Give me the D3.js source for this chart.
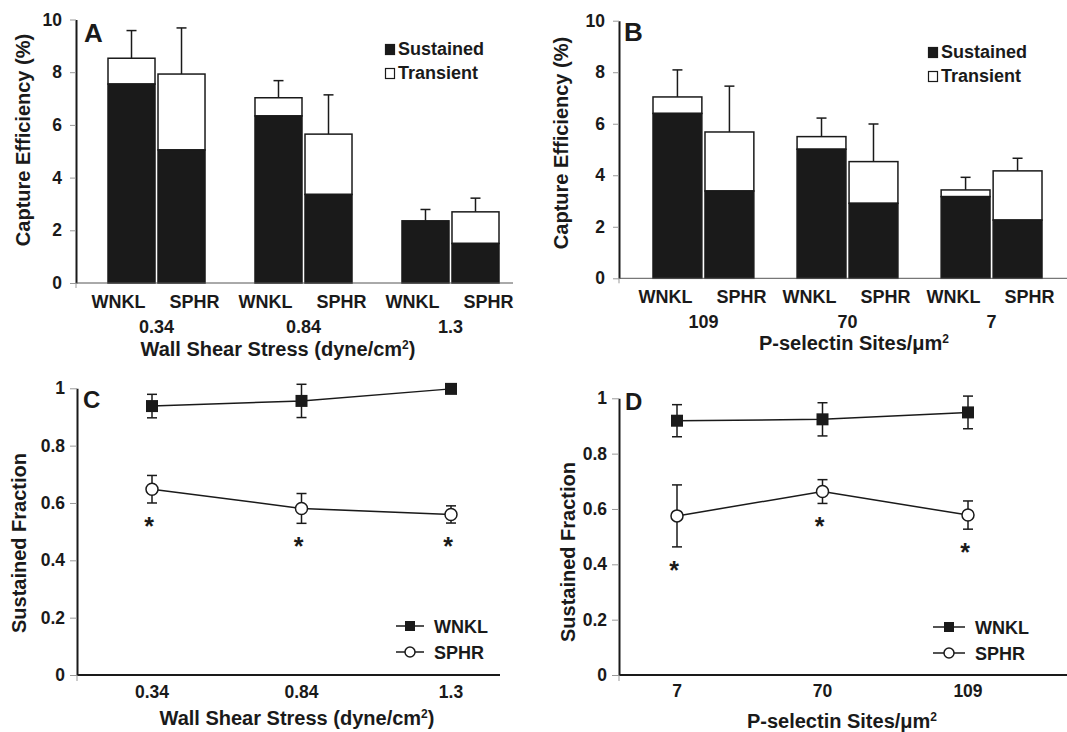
<!DOCTYPE html>
<html>
<head>
<meta charset="utf-8">
<script src="https://cdn.jsdelivr.net/npm/d3@7"></script>
<style>
  body { margin: 0; background: #fff; }
  text { font-family: "Liberation Sans", Arial, sans-serif; font-weight: bold; fill: #1a1a1a; }
</style>
</head>
<body>
<div id="chart"></div>
<script>
const shearGroups = ["0.34", "0.84", "1.3"];
const siteGroupsB = ["109", "70", "7"];
const siteGroupsD = ["7", "70", "109"];
const cellTypes = ["WNKL", "SPHR"];
const barTicks = [0, 2, 4, 6, 8, 10];
const fracTicks = [0, 0.2, 0.4, 0.6, 0.8, 1];

// panel A - capture efficiency vs shear stress
const aWnklSustained = [7.55, 6.34, 2.36];
const aWnklTransient = [0.98, 0.69, 0.0];
const aWnklSD = [1.05, 0.65, 0.43];
const aSphrSustained = [5.05, 3.36, 1.50];
const aSphrTransient = [2.88, 2.29, 1.20];
const aSphrSD = [1.75, 1.49, 0.52];

// panel B - capture efficiency vs site density
const bWnklSustained = [6.40, 5.01, 3.17];
const bWnklTransient = [0.64, 0.49, 0.26];
const bWnklSD = [1.05, 0.72, 0.49];
const bSphrSustained = [3.39, 2.91, 2.26];
const bSphrTransient = [2.29, 1.62, 1.91];
const bSphrSD = [1.78, 1.46, 0.49];

// panel C - sustained fraction vs shear stress
const cWnklMean = [0.938, 0.956, 0.998];
const cWnklErr = [0.041, 0.058, 0.0];
const cSphrMean = [0.648, 0.581, 0.560];
const cSphrErr = [0.048, 0.052, 0.030];

// panel D - sustained fraction vs site density
const dWnklMean = [0.919, 0.924, 0.949];
const dWnklErr = [0.058, 0.060, 0.059];
const dSphrMean = [0.575, 0.663, 0.578];
const dSphrErr = [0.112, 0.043, 0.051];

const width = 1067;
const height = 732;
const ink = "#1a1a1a";

const svg = d3.select("#chart")
    .append("svg")
        .attr("width", width)
        .attr("height", height);

svg.append("rect").attr("width", width).attr("height", height).attr("fill", "#fff");

function yAxis(g, scale, x, ticks, size, pad) {
    const ax = g.append("g")
        .attr("transform", "translate(" + x + ",0)")
        .call(d3.axisLeft(scale).tickValues(ticks).tickFormat(d => d)
            .tickSize(size).tickPadding(pad).tickSizeOuter(0));
    ax.select(".domain").attr("stroke", ink).attr("stroke-width", 2);
    ax.selectAll(".tick line").attr("stroke", "#999").attr("stroke-width", 1);
    ax.selectAll(".tick text").attr("font-size", 17.5).attr("fill", ink);
    return ax;
}

function drawBarPanel(p) {
    const g = svg.append("g");
    const xGroup = d3.scaleBand().domain(p.groups).range(p.xRange)
        .paddingInner(p.padInner).paddingOuter(0);
    const xCell = d3.scaleBand().domain(cellTypes).range([0, xGroup.bandwidth()])
        .paddingInner(0.06);
    const y = d3.scaleLinear().domain([0, 10]).range(p.yRange);

    const rows = [];
    p.groups.forEach((grp, i) => {
        rows.push({grp: grp, cell: "WNKL", s: p.wS[i], t: p.wT[i], sd: p.wSD[i]});
        rows.push({grp: grp, cell: "SPHR", s: p.sS[i], t: p.sT[i], sd: p.sSD[i]});
    });

    const bars = g.selectAll(".bar").data(rows).enter().append("g")
        .attr("transform", d => "translate(" + (xGroup(d.grp) + xCell(d.cell)) + ",0)");

    // error whisker (up only)
    bars.append("line")
        .attr("x1", xCell.bandwidth() / 2).attr("x2", xCell.bandwidth() / 2)
        .attr("y1", d => y(d.s + d.t)).attr("y2", d => y(d.s + d.t + d.sd))
        .attr("stroke", ink).attr("stroke-width", 1.5);
    bars.append("line")
        .attr("x1", xCell.bandwidth() / 2 - 5).attr("x2", xCell.bandwidth() / 2 + 5)
        .attr("y1", d => y(d.s + d.t + d.sd)).attr("y2", d => y(d.s + d.t + d.sd))
        .attr("stroke", ink).attr("stroke-width", 1.5);

    bars.append("rect")
        .attr("width", xCell.bandwidth())
        .attr("y", d => y(d.s + d.t))
        .attr("height", d => y(d.s) - y(d.s + d.t))
        .attr("fill", "#fff").attr("stroke", ink).attr("stroke-width", 1.5);
    bars.append("rect")
        .attr("width", xCell.bandwidth())
        .attr("y", d => y(d.s))
        .attr("height", d => y(0) - y(d.s))
        .attr("fill", ink).attr("stroke", ink).attr("stroke-width", 1.5);

    // axes
    yAxis(g, y, p.axisX, barTicks, 6, 8);
    g.append("line").attr("x1", p.axisX).attr("x2", p.axisEnd)
        .attr("y1", y(0)).attr("y2", y(0)).attr("stroke", "#555").attr("stroke-width", 1);
    g.append("line").attr("x1", p.axisX).attr("x2", p.axisX)
        .attr("y1", y(0)).attr("y2", y(0) + 5).attr("stroke", "#999");

    // category labels
    p.groups.forEach(grp => {
        const cx = xGroup(grp) + xGroup.bandwidth() / 2;
        cellTypes.forEach((c, i) => {
            g.append("text").attr("x", cx + (i - 0.5) * 76).attr("y", p.labelY)
                .attr("text-anchor", "middle").attr("font-size", 18).text(c);
        });
        g.append("text").attr("x", cx).attr("y", p.groupY)
            .attr("text-anchor", "middle").attr("font-size", 18).text(grp);
    });

    p.xTitle(g.append("text").attr("x", p.titleX).attr("y", p.titleY)
        .attr("text-anchor", "middle").attr("font-size", 20));

    g.append("text")
        .attr("transform", "translate(" + p.yTitleX + "," + p.yTitleY + ") rotate(-90)")
        .attr("text-anchor", "middle").attr("font-size", 20)
        .text("Capture Efficiency (%)");

    g.append("text").attr("x", p.letter[0]).attr("y", p.letter[1])
        .attr("font-size", 26).text(p.name);

    // legend
    const lg = g.append("g").attr("transform", "translate(" + p.legend[0] + "," + p.legend[1] + ")");
    ["Sustained", "Transient"].forEach((lab, i) => {
        lg.append("rect").attr("x", 0.5).attr("y", i * 24 + 0.5).attr("width", 9).attr("height", 10)
            .attr("fill", i == 0 ? ink : "#fff").attr("stroke", ink).attr("stroke-width", 1.2);
        lg.append("text").attr("x", 13).attr("y", i * 24 + 10.5)
            .attr("font-size", 18).text(lab);
    });
}

function drawLinePanel(p) {
    const g = svg.append("g");
    const x = d3.scalePoint().domain(p.groups).range(p.xRange);
    const y = d3.scaleLinear().domain([0, 1]).range(p.yRange);

    yAxis(g, y, p.axisX, fracTicks, 7, 5);
    g.append("line").attr("x1", p.axisX).attr("x2", p.axisEnd)
        .attr("y1", y(0)).attr("y2", y(0)).attr("stroke", ink).attr("stroke-width", 2);
    g.append("line").attr("x1", p.axisX).attr("x2", p.axisX)
        .attr("y1", y(0)).attr("y2", y(0) + 6).attr("stroke", "#999");

    p.groups.forEach(grp => {
        g.append("text").attr("x", x(grp)).attr("y", p.tickY)
            .attr("text-anchor", "middle").attr("font-size", 17.5).text(grp);
    });

    const series = [
        {name: "WNKL", mean: p.wMean, err: p.wErr},
        {name: "SPHR", mean: p.sMean, err: p.sErr}
    ];

    const line = d3.line().x(d => x(d.grp)).y(d => y(d.m));

    series.forEach(s => {
        const pts = p.groups.map((grp, i) => ({grp: grp, m: s.mean[i], e: s.err[i]}));
        g.append("path").datum(pts).attr("d", line)
            .attr("fill", "none").attr("stroke", ink).attr("stroke-width", 1.5);

        const eb = g.selectAll(null).data(pts.filter(d => d.e > 0)).enter().append("g");
        eb.append("line").attr("x1", d => x(d.grp)).attr("x2", d => x(d.grp))
            .attr("y1", d => y(d.m - d.e)).attr("y2", d => y(d.m + d.e))
            .attr("stroke", ink).attr("stroke-width", 1.5);
        [1, -1].forEach(sign => {
            eb.append("line").attr("x1", d => x(d.grp) - 5).attr("x2", d => x(d.grp) + 5)
                .attr("y1", d => y(d.m + sign * d.e)).attr("y2", d => y(d.m + sign * d.e))
                .attr("stroke", ink).attr("stroke-width", 1.5);
        });

        if (s.name == "WNKL") {
            g.selectAll(null).data(pts).enter().append("rect")
                .attr("x", d => x(d.grp) - 6).attr("y", d => y(d.m) - 6)
                .attr("width", 12).attr("height", 12).attr("fill", ink);
        } else {
            g.selectAll(null).data(pts).enter().append("circle")
                .attr("cx", d => x(d.grp)).attr("cy", d => y(d.m)).attr("r", 6)
                .attr("fill", "#fff").attr("stroke", ink).attr("stroke-width", 1.5);
            // significance stars
            g.selectAll(null).data(pts).enter().append("text")
                .attr("x", d => x(d.grp) - 3).attr("y", d => y(d.m - d.e) + 32)
                .attr("text-anchor", "middle").attr("font-size", 25).text("*");
        }
    });

    p.xTitle(g.append("text").attr("x", p.titleX).attr("y", p.titleY)
        .attr("text-anchor", "middle").attr("font-size", 20));

    g.append("text")
        .attr("transform", "translate(" + p.yTitleX + "," + p.yTitleY + ") rotate(-90)")
        .attr("text-anchor", "middle").attr("font-size", 20)
        .text("Sustained Fraction");

    g.append("text").attr("x", p.letter[0]).attr("y", p.letter[1])
        .attr("font-size", 24).text(p.name);

    // legend
    const lx = p.legend[0], lw = p.legend[1];
    const mid = lx + lw / 2;
    series.forEach((s, i) => {
        const ly = p.legend[2] + i * 26;
        g.append("line").attr("x1", lx).attr("x2", lx + lw).attr("y1", ly).attr("y2", ly)
            .attr("stroke", ink).attr("stroke-width", 1.5);
        if (i == 0) {
            g.append("rect").attr("x", mid - 5).attr("y", ly - 5).attr("width", 10).attr("height", 10)
                .attr("fill", ink);
        } else {
            g.append("circle").attr("cx", mid).attr("cy", ly).attr("r", 5)
                .attr("fill", "#fff").attr("stroke", ink).attr("stroke-width", 1.5);
        }
        g.append("text").attr("x", lx + lw + 10).attr("y", ly + 7)
            .attr("font-size", 18).text(s.name);
    });
}

function shearTitle(t) {
    t.text("Wall Shear Stress (dyne/cm");
    t.append("tspan").attr("font-size", 12).attr("dy", -7).text("2");
    t.append("tspan").attr("dy", 7).text(")");
}

function siteTitle(t) {
    t.text("P-selectin Sites/\u03bcm");
    t.append("tspan").attr("font-size", 12).attr("dy", -7).text("2");
}

drawBarPanel({
    name: "A", groups: shearGroups,
    wS: aWnklSustained, wT: aWnklTransient, wSD: aWnklSD,
    sS: aSphrSustained, sT: aSphrTransient, sSD: aSphrSD,
    xRange: [108, 499], padInner: 0.34, yRange: [283, 19.5],
    axisX: 76, axisEnd: 513, labelY: 308, groupY: 333,
    titleX: 278, titleY: 356, xTitle: shearTitle,
    yTitleX: 30, yTitleY: 140, letter: [84, 42], legend: [385, 44]
});

drawBarPanel({
    name: "B", groups: siteGroupsB,
    wS: bWnklSustained, wT: bWnklTransient, wSD: bWnklSD,
    sS: bSphrSustained, sT: bSphrTransient, sSD: bSphrSD,
    xRange: [653, 1042], padInner: 0.30, yRange: [278.3, 20.7],
    axisX: 619, axisEnd: 1067, labelY: 303, groupY: 328,
    titleX: 854, titleY: 350, xTitle: siteTitle,
    yTitleX: 568, yTitleY: 143, letter: [624, 41], legend: [928, 47]
});

drawLinePanel({
    name: "C", groups: shearGroups,
    wMean: cWnklMean, wErr: cWnklErr, sMean: cSphrMean, sErr: cSphrErr,
    xRange: [152, 451], yRange: [675, 388.3],
    axisX: 77, axisEnd: 500, tickY: 698,
    titleX: 297, titleY: 725, xTitle: shearTitle,
    yTitleX: 26, yTitleY: 543, letter: [83, 408], legend: [396, 28, 626]
});

drawLinePanel({
    name: "D", groups: siteGroupsD,
    wMean: dWnklMean, wErr: dWnklErr, sMean: dSphrMean, sErr: dSphrErr,
    xRange: [677, 968], yRange: [675, 398.3],
    axisX: 619, axisEnd: 1067, tickY: 697,
    titleX: 842, titleY: 728, xTitle: siteTitle,
    yTitleX: 575, yTitleY: 552, letter: [625, 410], legend: [933, 32, 627]
});
</script>
</body>
</html>
